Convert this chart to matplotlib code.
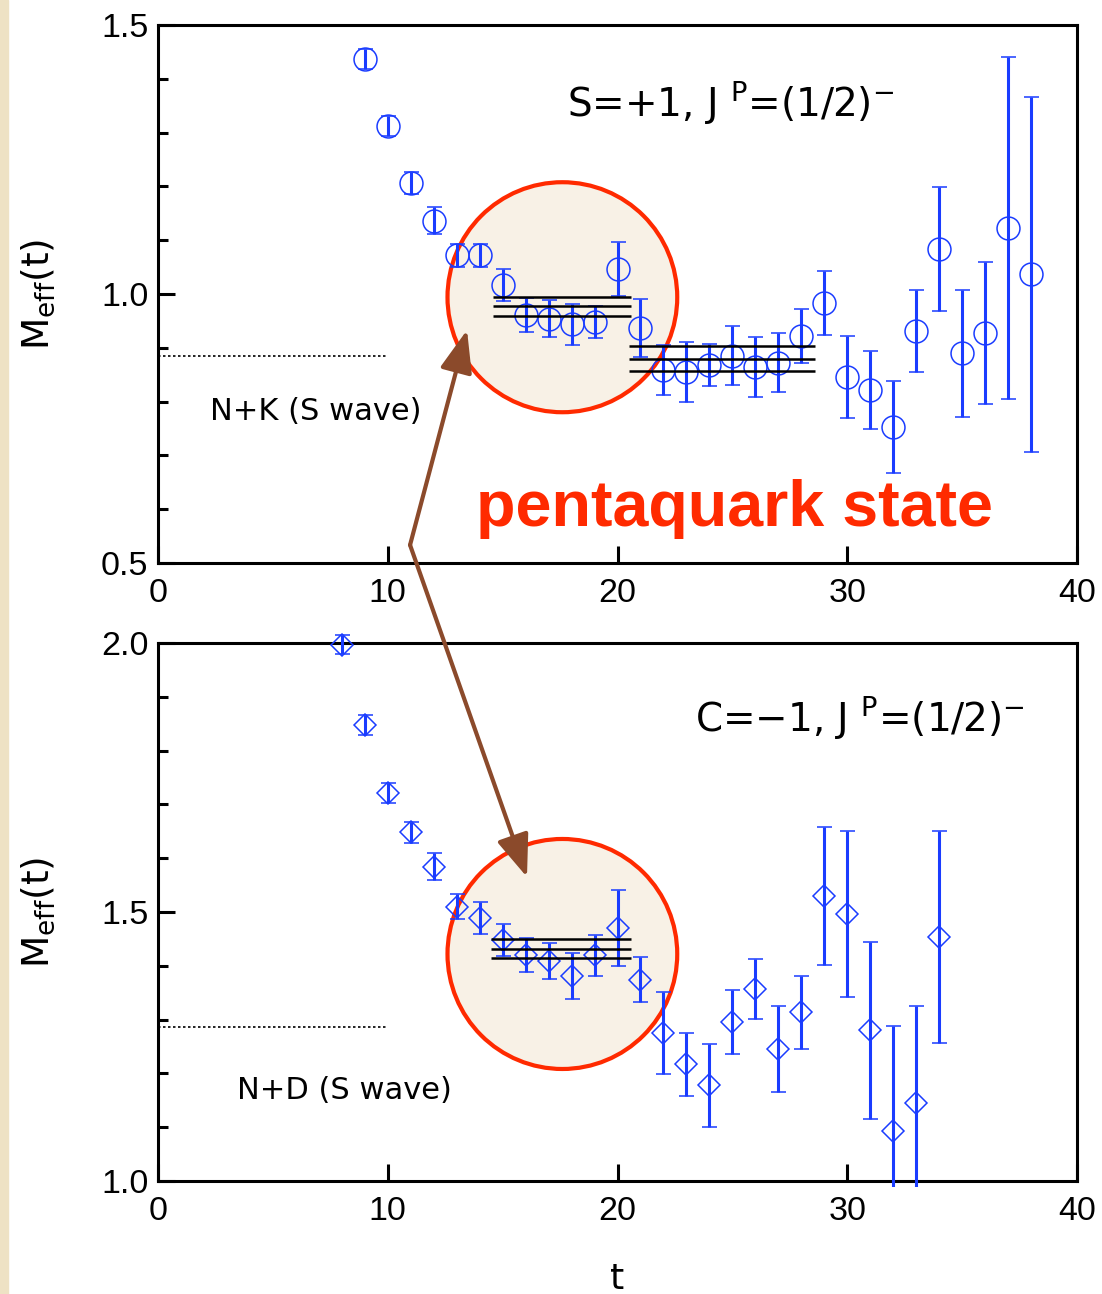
import numpy as np
import matplotlib
matplotlib.use('Agg')
import matplotlib.pyplot as plt
from matplotlib.patches import Ellipse, Rectangle
from matplotlib.ticker import MultipleLocator, FormatStrFormatter

# Данные: верхняя панель (S=+1)
t_top = list(range(9, 39))
m_top = [1.437, 1.312, 1.206, 1.136, 1.072, 1.072, 1.017, 0.961, 0.954, 0.944,
         0.948, 1.046, 0.937, 0.859, 0.855, 0.868, 0.885, 0.864, 0.872, 0.922,
         0.983, 0.846, 0.822, 0.753, 0.931, 1.084, 0.890, 0.927, 1.123, 1.037]
e_top = [0.019, 0.019, 0.021, 0.025, 0.021, 0.021, 0.030, 0.032, 0.034, 0.038,
         0.029, 0.050, 0.054, 0.047, 0.055, 0.039, 0.055, 0.056, 0.055, 0.051,
         0.059, 0.076, 0.072, 0.085, 0.076, 0.115, 0.118, 0.132, 0.318, 0.330]

# Данные: нижняя панель (C=-1)
t_bot = list(range(8, 35))
m_bot = [1.997, 1.848, 1.721, 1.648, 1.584, 1.510, 1.489, 1.448, 1.420, 1.409,
         1.381, 1.420, 1.470, 1.374, 1.275, 1.217, 1.178, 1.296, 1.357, 1.245,
         1.314, 1.530, 1.496, 1.280, 1.093, 1.145, 1.454]
e_bot = [0.018, 0.019, 0.019, 0.020, 0.025, 0.023, 0.030, 0.030, 0.031, 0.034,
         0.043, 0.038, 0.071, 0.042, 0.076, 0.059, 0.077, 0.059, 0.056, 0.080,
         0.068, 0.128, 0.154, 0.165, 0.195, 0.180, 0.197]

# Фиты плато: (t_min, t_max, центр, ошибка)
fits_top = [(14.6, 20.6, 0.977, 0.017), (20.5, 28.6, 0.880, 0.023)]
fits_bot = [(14.5, 20.6, 1.432, 0.017)]

# Пороги N+K и N+D
thr_top = 0.885
thr_bot = 1.286

blue = '#1a3cff'
red = '#ff2a00'
brown = '#8b4a2b'
fill = '#f8f1e6'

plt.rcParams['font.family'] = ['DejaVu Sans']
plt.rcParams['mathtext.fontset'] = 'custom'
plt.rcParams['mathtext.rm'] = 'DejaVu Sans'

fig = plt.figure(figsize=(11.02, 12.94), dpi=100)
fig.patches.append(Rectangle((0, 0), 8 / 1102, 1, transform=fig.transFigure,
                             color='#eee2c4', zorder=-10))

ax1 = fig.add_axes([0.1434, 0.5649, 0.8339, 0.4158])
ax2 = fig.add_axes([0.1434, 0.0873, 0.8339, 0.4158])


def style(ax, ylo, yhi):
    ax.set_xlim(0, 40)
    ax.set_ylim(ylo, yhi)
    ax.xaxis.set_major_locator(MultipleLocator(10))
    ax.yaxis.set_major_locator(MultipleLocator(0.5))
    ax.yaxis.set_minor_locator(MultipleLocator(0.1))
    ax.yaxis.set_major_formatter(FormatStrFormatter('%.1f'))
    for s in ax.spines.values():
        s.set_linewidth(2.2)
    ax.tick_params(which='both', direction='in', top=False, right=False, width=2.2)
    ax.tick_params(which='major', length=12)
    ax.tick_params(which='minor', length=7)
    ax.tick_params(axis='x', pad=11)
    ax.tick_params(axis='y', pad=7)
    for lab in ax.get_xticklabels() + ax.get_yticklabels():
        lab.set_fontfamily('Liberation Sans')
        lab.set_fontsize(24.5)
    ax.set_ylabel(r'M$_{\rm eff}$(t)', fontsize=27)
    ax.yaxis.set_label_coords(-0.11, 0.5)


style(ax1, 0.5, 1.5)
style(ax2, 1.0, 2.0)

# Круги выделения
ax1.add_patch(Ellipse((17.6, 0.994), 10.0, 0.4275, facecolor=fill,
                      edgecolor=red, lw=3, zorder=1))
ax2.add_patch(Ellipse((17.6, 1.422), 10.0, 0.4275, facecolor=fill,
                      edgecolor=red, lw=3, zorder=1))


def draw(ax, t, m, e, mk, ms):
    eb = ax.errorbar(t, m, yerr=e, fmt=mk, ms=ms, mfc='none', mec=blue, mew=1.1,
                     ecolor=blue, elinewidth=2.2, capsize=5.4, capthick=2.2, zorder=3)
    clip = Rectangle((0, -0.012), 1, 1.2, transform=ax.transAxes)
    for art in eb.lines[1] + eb.lines[2]:
        art.set_clip_path(clip)
    eb.lines[0].set_clip_on(False)


draw(ax1, t_top, m_top, e_top, 'o', 16.5)
draw(ax2, t_bot, m_bot, e_bot, 'D', 11.7)

for ax, fits in ((ax1, fits_top), (ax2, fits_bot)):
    for t0, t1, c, d in fits:
        ax.hlines([c - d, c, c + d], t0, t1, colors='black', lw=1.8, zorder=4)

ax1.hlines(thr_top, 0, 10, colors='black', linestyles=(0, (1.5, 1.5)), lw=1.2)
ax2.hlines(thr_bot, 0, 10, colors='black', linestyles=(0, (1.5, 1.5)), lw=1.2)

ax1.text(2.26, 0.7825, 'N+K (S wave)', fontsize=22, va='center', ha='left')
ax2.text(3.44, 1.169, 'N+D (S wave)', fontsize=22, va='center', ha='left')

ax1.text(17.8, 1.355, r'S=+1, J $^{\rm P}$=(1/2)$^{-}$', fontsize=28,
         va='center', ha='left')
ax2.text(23.37, 1.861, r'C=$-$1, J $^{\rm P}$=(1/2)$^{-}$', fontsize=28,
         va='center', ha='left')

ax1.text(25.11, 0.60, 'pentaquark state', fontsize=46.5, fontweight='bold',
         color=red, family='Liberation Sans', va='center', ha='center')

ax2.set_xlabel('t', fontsize=26)
ax2.xaxis.set_label_coords(0.5, -0.15)

# Стрелки
arrow = dict(arrowstyle='-|>,head_length=1.3,head_width=0.5', color=brown,
             lw=3, mutation_scale=20, shrinkA=0, shrinkB=0)
ax1.annotate('', xy=(13.45, 0.933), xytext=(10.97, 0.5335), arrowprops=arrow,
             annotation_clip=False, zorder=6)
ax2.annotate('', xy=(16.06, 1.565), xycoords='data', xytext=(10.97, 0.5335),
             textcoords=ax1.transData, arrowprops=arrow,
             annotation_clip=False, zorder=6)

plt.savefig('out.png', dpi=100)
